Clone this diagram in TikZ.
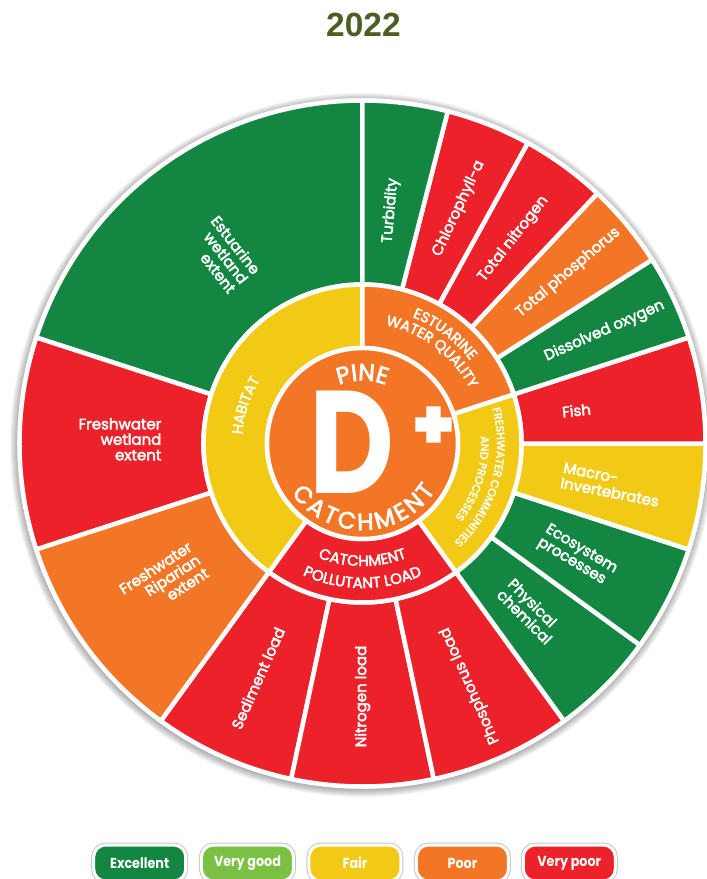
\documentclass[tikz,border=0pt]{standalone}
\usepackage{fontspec}
\usepackage{graphicx}
\setmainfont{Poppins}
\newfontfamily\labfont[FakeBold=3]{Poppins}
\newfontfamily\titlefont{Liberation Sans}
\newfontfamily\legendfont[FakeStretch=0.88]{Poppins}
\newfontfamily\plusfont[FakeBold=26]{DejaVu Sans}
\usetikzlibrary{decorations.text}
\definecolor{cGreen}{RGB}{19,135,66}
\definecolor{cLight}{RGB}{122,193,67}
\definecolor{cYellow}{RGB}{242,202,22}
\definecolor{cOrange}{RGB}{243,118,38}
\definecolor{cRed}{RGB}{236,33,41}
\definecolor{cTitle}{RGB}{75,95,36}
\tikzset{
  seg/.style={draw=white, line width=4.5pt, line join=round},
  lab/.style={text=white, inner sep=0pt, font=\labfont\fontsize{15}{15.5}\selectfont},
  pill/.style={rounded corners=12pt, minimum width=92pt, minimum height=36pt, inner sep=0pt,
    text=white, font=\legendfont\bfseries\fontsize{14.5}{14.5}\selectfont,
    draw=white, line width=3pt, preaction={draw=black!22, line width=5pt}}
}
\newcommand\ringsector[5]{\filldraw[seg, fill=#1] (#2:#4) arc[start angle=#2, end angle=#3, radius=#4] -- (#3:#5) arc[start angle=#3, end angle=#2, radius=#5] -- cycle;}
\newcommand\cwtext[5]{\path[decorate, decoration={text along path, text align=center, text color=white, text={|#5|#1}}] ({#2+#4}:#3) arc[start angle={#2+#4}, end angle={#2-#4}, radius=#3];}
\newcommand\ccwtext[5]{\path[decorate, decoration={text along path, text align=center, text color=white, text={|#5|#1}}] ({#2-#4}:#3) arc[start angle={#2-#4}, end angle={#2+#4}, radius=#3];}
\newcommand\ccwfit[5]{\path[decorate, decoration={text along path, text align=fit to path, text color=white, text={|#5|#1}}] ({#2-#4}:#3) arc[start angle={#2-#4}, end angle={#2+#4}, radius=#3];}
\begin{document}
\begin{tikzpicture}[x=1pt,y=1pt]
\useasboundingbox (-362.5,-435.5) rectangle (344.5,443.5);
% shadow
\foreach \i in {1,...,8} \fill[black, opacity=0.045] (-0.5,-1.5) circle[radius={344+\i}];
\fill[white] (0,0) circle[radius=345];
% outer ring
\ringsector{cGreen}{90}{162}{159}{343}
\ringsector{cRed}{162}{198}{159}{343}
\ringsector{cOrange}{198}{234}{159}{343}
\ringsector{cRed}{234}{258}{159}{343}
\ringsector{cRed}{258}{282}{159}{343}
\ringsector{cRed}{282}{306}{159}{343}
\ringsector{cGreen}{306}{324}{159}{343}
\ringsector{cGreen}{324}{342}{159}{343}
\ringsector{cYellow}{342}{360}{159}{343}
\ringsector{cRed}{0}{18}{159}{343}
\ringsector{cGreen}{18}{32.4}{159}{343}
\ringsector{cOrange}{32.4}{46.8}{159}{343}
\ringsector{cRed}{46.8}{61.2}{159}{343}
\ringsector{cRed}{61.2}{75.6}{159}{343}
\ringsector{cGreen}{75.6}{90}{159}{343}
% middle ring
\ringsector{cYellow}{90}{234}{95.5}{159}
\ringsector{cRed}{234}{306}{95.5}{159}
\ringsector{cYellow}{306}{378}{95.5}{159}
\ringsector{cOrange}{18}{90}{95.5}{159}
% centre
\filldraw[fill=cOrange, draw=white, line width=4.5pt] (0,0) circle[radius=95.5];
% outer labels
\node[lab, anchor=west, rotate=85] (turb) at (82.8:202) {Turbidity};
\node[lab, anchor=west, rotate=65] (chl) at (68.4:202) {Chlorophyll-a};
\node[lab, anchor=west, rotate=52] (tn) at (54:202) {Total nitrogen};
\node[lab, anchor=west, rotate=40] (tp) at (39.6:202) {Total phosphorus};
\node[lab, anchor=west, rotate=24] (dox) at (25.2:202) {Dissolved oxygen};
\node[lab, anchor=west, rotate=6] (fish) at (9:202) {Fish};
\node[lab, anchor=west, rotate=-11, align=left] (macro) at (-9:202) {Macro-\\Invertebrates};
\node[lab, anchor=west, rotate=-31, align=left] (eco) at (-27:202) {Ecosystem\\processes};
\node[lab, anchor=west, rotate=-45, align=left] (phys) at (-45:202) {Physical\\chemical};
\node[lab, anchor=east, rotate=114] (pload) at (-66:202) {Phosphorus load};
\node[lab, anchor=east, rotate=90] (nload) at (-90:202) {Nitrogen load};
\node[lab, anchor=east, rotate=66] (sload) at (-114:202) {Sediment load};
\node[lab, anchor=east, rotate=33, align=right] (rip) at (215:200) {Freshwater\\Riparian\\extent};
\node[lab, anchor=east, align=right] (fww) at (178.8:201) {Freshwater\\wetland\\extent};
\node[lab, anchor=east, rotate=-52, align=right] (eww) at (126:200) {Estuarine\\wetland\\extent};
% middle ring labels
\cwtext{ESTUARINE}{53}{136}{40}{\labfont\fontsize{14.5}{14.5}\selectfont}
\cwtext{WATER QUALITY}{53}{120.5}{40}{\labfont\fontsize{14.5}{14.5}\selectfont}
\cwtext{HABITAT}{162}{120.5}{40}{\labfont\fontsize{14.5}{14.5}\selectfont}
\cwtext{FRESHWATER COMMUNITIES}{-16}{134.5}{40}{\labfont\fontsize{11}{11}\selectfont}
\cwtext{AND PROCESSES}{-17.5}{118.5}{40}{\labfont\fontsize{11}{11}\selectfont}
\ccwtext{CATCHMENT}{-90}{122.5}{40}{\labfont\fontsize{15}{15}\selectfont}
\ccwtext{POLLUTANT LOAD}{-90}{144.5}{40}{\labfont\fontsize{15}{15}\selectfont}
% centre labels
\cwtext{PINE}{90}{63}{40}{\labfont\fontsize{23.5}{23.5}\selectfont}
\ccwfit{CATCHMENT}{-89}{86.5}{56}{\labfont\fontsize{23.5}{23.5}\selectfont}
\node[text=white, inner sep=0pt] (grade) at (-10.8,1) {\fontsize{146}{146}\selectfont\bfseries\scalebox{0.8}[1]{D}};
\node[text=white, inner sep=0pt] (plus) at (71,19) {\plusfont\fontsize{41}{41}\selectfont +};
% title
\node[font=\titlefont\bfseries\fontsize{33.5}{33.5}\selectfont, text=cTitle] (title) at (1,418.5) {2022};
% legend
\node[pill, fill=cGreen] (lgExc) at (-222.8,-419.5) {Excellent};
\node[pill, fill=cLight] (lgVg) at (-115,-419.5) {Very good};
\node[pill, fill=cYellow] (lgFair) at (-7.5,-419.5) {Fair};
\node[pill, fill=cOrange] (lgPoor) at (100,-419.5) {Poor};
\node[pill, fill=cRed] (lgVp) at (206.8,-419.5) {Very poor};
\end{tikzpicture}
\end{document}
